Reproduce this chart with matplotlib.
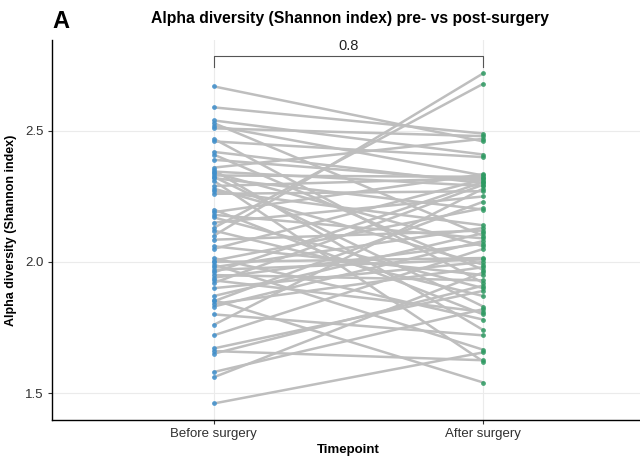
import matplotlib
matplotlib.use("Agg")
import matplotlib.pyplot as plt

plt.rcParams['font.family'] = ['Liberation Sans', 'DejaVu Sans']

timepoints = ["Before surgery", "After surgery"]
before = [2.67, 2.59, 2.54, 2.53, 2.52, 2.51, 2.47, 2.46, 2.42, 2.41,
          2.39, 2.36, 2.35, 2.345, 2.34, 2.33, 2.325, 2.32, 2.31, 2.29,
          2.28, 2.27, 2.26, 2.20, 2.19, 2.18, 2.17, 2.15, 2.13, 2.12,
          2.10, 2.085, 2.06, 2.05, 2.015, 2.005, 2.00, 1.99, 1.98, 1.97,
          1.96, 1.95, 1.94, 1.93, 1.92, 1.90, 1.87, 1.855, 1.85, 1.84,
          1.83, 1.80, 1.76, 1.72, 1.67, 1.66, 1.65, 1.58, 1.56, 1.46]
after = [2.46, 2.49, 2.41, 2.10, 2.33, 2.48, 1.92, 2.40, 2.30, 1.97,
         2.31, 2.47, 1.74, 2.29, 2.06, 2.325, 1.83, 2.20, 1.62, 2.32,
         1.99, 2.14, 2.27, 1.80, 2.335, 2.09, 1.90, 2.25, 2.68, 1.87,
         2.72, 2.12, 1.95, 2.315, 1.78, 2.205, 2.015, 1.665, 2.13, 2.01,
         2.305, 1.93, 2.07, 1.81, 2.295, 2.00, 2.11, 1.54, 2.23, 1.98,
         2.08, 1.72, 2.28, 2.05, 1.89, 1.625, 1.91, 1.82, 1.96, 1.655]
p_label = "0.8"

fig = plt.figure(figsize=(6.4, 4.57), dpi=100)
ax = fig.add_axes([52/640, 1 - 420/457, 593/640, 380/457])

xpos = [1, 2]
for b, a in zip(before, after):
    ax.plot(xpos, [b, a], color="#bebebe", lw=1.8, zorder=2, solid_capstyle="round")
ax.scatter([1]*len(before), before, s=12, color="#3f8fcc", alpha=0.85, zorder=3, linewidths=0)
ax.scatter([2]*len(after), after, s=12, color="#2e9a62", alpha=0.85, zorder=3, linewidths=0)

# significance bracket
top = max(max(before), max(after))
yb = top + 0.065
ax.plot([1, 1, 2, 2], [top + 0.025, yb, yb, top + 0.025], color="#555555", lw=0.8, zorder=4)
ax.text(1.5, yb + 0.012, p_label, ha="center", va="bottom", fontsize=10.5, color="#222222")

ax.set_xlim(0.4, 2.6)
ax.set_ylim(1.397, 2.847)
ax.set_xticks(xpos)
ax.set_xticklabels(timepoints, fontsize=9.5, color="#303030")
ax.set_yticks([1.5, 2.0, 2.5])
ax.set_yticklabels(["1.5", "2.0", "2.5"], fontsize=9.5, color="#303030")
ax.grid(True, color="#ebebeb", lw=0.8, zorder=0)
ax.set_axisbelow(True)
for s in ["top", "right"]:
    ax.spines[s].set_visible(False)
for s in ["left", "bottom"]:
    ax.spines[s].set_color("black")
    ax.spines[s].set_linewidth(1.0)
ax.tick_params(axis="both", length=3, color="#333333", pad=3)

ax.set_ylabel("Alpha diversity (Shannon index)", fontsize=9, fontweight="bold", labelpad=6)
ax.set_xlabel("Timepoint", fontsize=9.5, fontweight="bold", labelpad=3)

fig.text(350/640, 1 - 18/457, "Alpha diversity (Shannon index) pre- vs post-surgery",
         ha="center", va="center", fontsize=11.3, fontweight="bold")
fig.text(52/640, 1 - 22/457, "A", ha="left", va="center", fontsize=17, fontweight="bold")

fig.savefig("out.png", dpi=100)
